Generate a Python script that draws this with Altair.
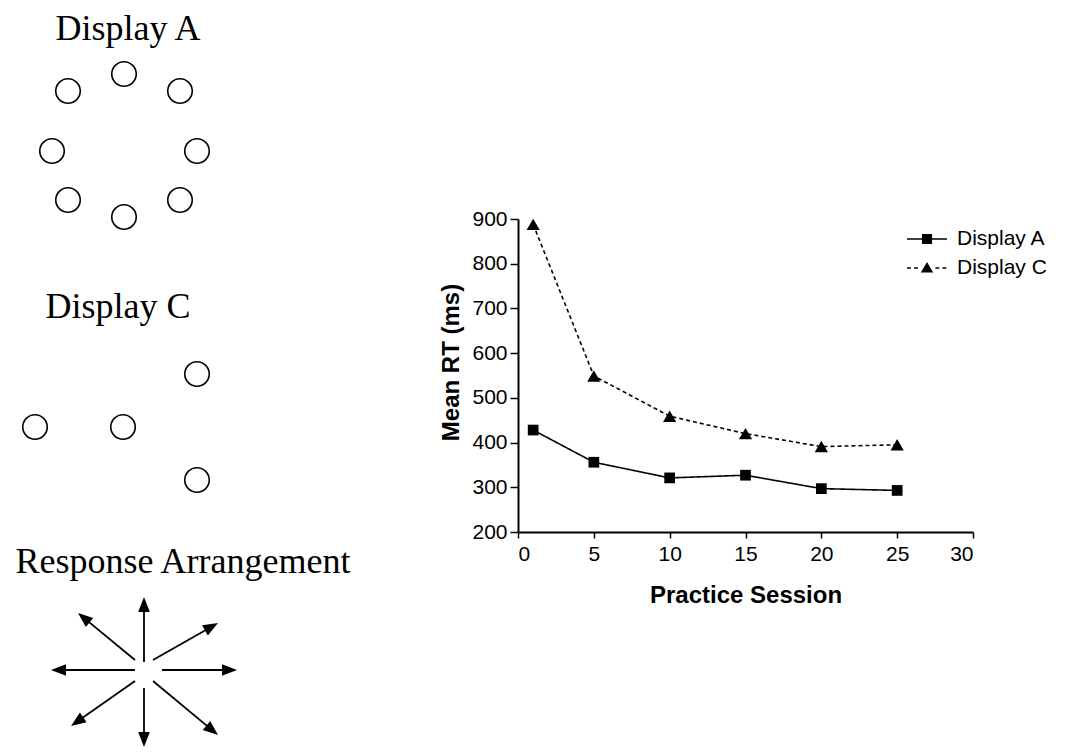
import math
import altair as alt
import pandas as pd

# ---------------- line chart data ----------------
sessions = [1, 5, 10, 15, 20, 25]
rt_display_a = [428, 356, 321, 327, 297, 293]
rt_display_c = [888, 549, 459, 420, 391, 395]
series_names = ["Display A", "Display C"]
x_ticks = [0, 5, 10, 15, 20, 25, 30]
y_ticks = [200, 300, 400, 500, 600, 700, 800, 900]

# ---------------- diagram data (reference layout units) ----------------
circle_a_x = [124, 68, 180, 52, 197, 68, 180, 124]
circle_a_y = [74, 91, 91, 151, 151, 200, 200, 217]
circle_c_x = [197, 35, 123, 197]
circle_c_y = [374, 427, 427, 480]

label_text = ["Display A", "Display C", "Response Arrangement"]
label_x = [128, 118, 183]
label_y = [40, 318, 573]

arrow_start_x = [144, 153, 162, 153, 144, 135, 135, 135]
arrow_start_y = [662, 660, 670, 681, 688, 681, 670, 660]
arrow_tip_x = [144, 218, 237, 218, 144, 71, 51, 78]
arrow_tip_y = [597, 623, 670, 735, 747, 726, 670, 613]

# ---------------- build tables ----------------
rt = pd.DataFrame({
    "session": sessions * 2,
    "rt": rt_display_a + rt_display_c,
    "series": [series_names[0]] * len(sessions) + [series_names[1]] * len(sessions),
})

circles = pd.DataFrame({
    "cx": circle_a_x + circle_c_x,
    "cy": circle_a_y + circle_c_y,
})
labels = pd.DataFrame({"t": label_text, "lx": label_x, "ly": label_y})

HEAD = 15.0
rows = []
for sx, sy, tx, ty in zip(arrow_start_x, arrow_start_y, arrow_tip_x, arrow_tip_y):
    dx, dy = tx - sx, ty - sy
    ln = math.hypot(dx, dy)
    ux, uy = dx / ln, dy / ln
    rows.append({
        "sx": sx, "sy": sy,
        "bx": tx - ux * HEAD * 0.8, "by": ty - uy * HEAD * 0.8,
        "hx": tx - ux * HEAD / 2, "hy": ty - uy * HEAD / 2,
        "ang": math.degrees(math.atan2(dx, -dy)) % 360,
    })
arrows = pd.DataFrame(rows)

# ---------------- left panel: diagrams ----------------
LW, LH = 420, 740
xs = alt.Scale(domain=[8, 8 + LW], nice=False, zero=False)
ys = alt.Scale(domain=[8, 8 + LH], nice=False, zero=False, reverse=True)

circ = alt.Chart(circles).mark_point(
    shape="circle", size=600, filled=False, color="black", strokeWidth=1.6, opacity=1
).encode(
    x=alt.X("cx:Q", scale=xs, axis=None),
    y=alt.Y("cy:Q", scale=ys, axis=None),
)

txt = alt.Chart(labels).mark_text(
    font="Liberation Serif", fontSize=36, color="black", align="center", baseline="alphabetic"
).encode(
    x=alt.X("lx:Q", scale=xs, axis=None),
    y=alt.Y("ly:Q", scale=ys, axis=None),
    text="t:N",
)

shafts = alt.Chart(arrows).mark_rule(color="black", strokeWidth=1.8).encode(
    x=alt.X("sx:Q", scale=xs, axis=None),
    y=alt.Y("sy:Q", scale=ys, axis=None),
    x2="bx:Q",
    y2="by:Q",
)

heads = alt.Chart(arrows).mark_point(
    shape="M0,-1L0.78,1L-0.78,1Z", size=HEAD * HEAD, filled=True, color="black", opacity=1
).encode(
    x=alt.X("hx:Q", scale=xs, axis=None),
    y=alt.Y("hy:Q", scale=ys, axis=None),
    angle=alt.Angle("ang:Q", scale=None),
)

left = alt.layer(circ, txt, shafts, heads).properties(width=LW, height=LH)

# ---------------- right panel: line chart ----------------
PW, PH = 455, 313


def bar(x0, x1, h=0.055):
    return "M%.3f,%.3fL%.3f,%.3fL%.3f,%.3fL%.3f,%.3fZ" % (x0, -h, x1, -h, x1, h, x0, h)


# legend symbols (unit coords, 1 unit = 14 px): line + marker
sym_a = bar(-1.43, 1.43) + "M-0.36,-0.36L0.36,-0.36L0.36,0.36L-0.36,0.36Z"
sym_c = (bar(-1.43, -1.15) + bar(-0.93, -0.65) + bar(0.6, 0.88) + bar(1.1, 1.38)
         + "M0,-0.42L0.44,0.32L-0.44,0.32Z")

x_enc = alt.X(
    "session:Q",
    scale=alt.Scale(domain=[0, 30], nice=False, zero=False),
    axis=alt.Axis(
        values=x_ticks, title="Practice Session", format="d",
        titleFont="Liberation Sans", titleFontSize=24, titleFontWeight="bold", titleColor="black",
        titleBaseline="alphabetic", titleY=70, titleX=PW / 2, titleAlign="center",
        labelFont="Liberation Sans", labelFontSize=21, labelColor="black", labelPadding=5,
        tickSize=6, tickWidth=1.5, tickColor="black", domainColor="black", domainWidth=2,
        grid=False,
    ),
)
y_enc = alt.Y(
    "rt:Q",
    scale=alt.Scale(domain=[200, 900], nice=False, zero=False),
    axis=alt.Axis(
        values=y_ticks, title="Mean RT (ms)", format="d",
        titleFont="Liberation Sans", titleFontSize=24, titleFontWeight="bold", titleColor="black",
        titleAngle=270, titleAlign="center", titleBaseline="alphabetic", titleX=-60, titleY=143,
        labelFont="Liberation Sans", labelFontSize=21, labelColor="black", labelPadding=3,
        tickSize=8, tickWidth=1.5, tickColor="black", domainColor="black", domainWidth=2,
        grid=False,
    ),
)

legend_opts = dict(
    title=None, orient="none", legendX=395, legendY=6, padding=0,
    symbolSize=784, symbolStrokeWidth=0, symbolFillColor="black",
    labelOffset=16, rowPadding=5,
    labelFont="Liberation Sans", labelFontSize=21, labelColor="black",
)
dash_scale = alt.Scale(domain=series_names, range=[[1, 0], [4, 3]])

base = alt.Chart(rt)
lines = base.mark_line(color="black", strokeWidth=1.6).encode(
    x=x_enc,
    y=y_enc,
    strokeDash=alt.StrokeDash("series:N", scale=dash_scale, legend=None),
    detail="series:N",
)
points = base.mark_point(filled=True, color="black", opacity=1).encode(
    x="session:Q",
    y="rt:Q",
    shape=alt.Shape("series:N", scale=alt.Scale(domain=series_names, range=["square", "triangle-up"]), legend=None),
    size=alt.Size("series:N", scale=alt.Scale(domain=series_names, range=[115, 175]), legend=None),
)
# legend-only layer (no marks drawn): combined line+marker symbols
ghost = base.transform_filter("false").mark_point(
    filled=True, color="black", opacity=1
).encode(
    x="session:Q",
    y="rt:Q",
    shape=alt.Shape("series:N", scale=alt.Scale(domain=series_names, range=[sym_a, sym_c]),
                    legend=alt.Legend(**legend_opts)),
)

plot = alt.layer(lines, points, ghost).resolve_scale(shape="independent").properties(width=PW, height=PH)

spacer = alt.Chart(pd.DataFrame({"v": [0]})).mark_point(opacity=0, size=1).encode(
    x=alt.value(100), y=alt.value(100)
).properties(width=PW, height=211)

right = alt.vconcat(spacer, plot, spacing=0, bounds="flush")

chart = alt.hconcat(left, right, spacing=90, bounds="flush").properties(
    padding=0
).configure_view(stroke=None)

chart.save("out.html", embed_options={"renderer": "svg", "actions": False})
